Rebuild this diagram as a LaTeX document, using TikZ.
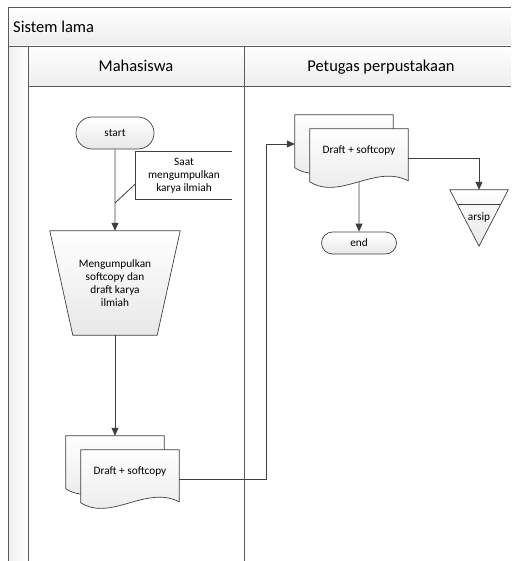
\documentclass[tikz,border=0pt]{standalone}
\usepackage{fontspec}
\setmainfont{Carlito}
\usepackage{tikz}
\usetikzlibrary{shapes}
\usetikzlibrary{arrows}
\usetikzlibrary{arrows.meta}
\usetikzlibrary{calc}

\definecolor{linecol}{HTML}{3F3F3F}
\definecolor{framecol}{HTML}{5A5A5A}

\pgfdeclarelayer{background}
\pgfsetlayers{background,main}

\tikzset{
	flowline/.style={draw=linecol, line width=0.8pt},
	flowarrow/.style={flowline, -{Triangle[width=7pt,length=8pt]}},
	shapefill/.style={draw=linecol, line width=0.7pt, top color=white, bottom color=gray!18},
	smalltext/.style={font=\fontsize{11.3}{13}\selectfont},
	headtext/.style={font=\fontsize{16.5}{20}\selectfont, inner sep=0pt},
	terminal/.style={shapefill, rounded rectangle, inner sep=0pt, smalltext},
	docbox/.style={minimum width=98pt, minimum height=44pt, inner sep=0pt, smalltext},
}

% sheet with wavy bottom, drawn from the anchors of a docbox node
\newcommand{\docsheet}[1]{%
	\path[shapefill] (#1.north west) -- (#1.north east) -- ([yshift=-52pt]#1.north east)
		.. controls ([shift={(-33pt,-35pt)}]#1.north east) and ([shift={(30pt,-72pt)}]#1.north west)
		.. ([yshift=-53pt]#1.north west) -- cycle;}

\begin{document}
\begin{tikzpicture}[x=1pt, y=-1pt]
	\useasboundingbox (0,0) rectangle (511,561);

	% swimlanes
	\node[headtext, anchor=base west] (title) at (13,32.5) {Sistem lama};
	\node[headtext, anchor=base] (laneA) at (136,71.5) {Mahasiswa};
	\node[headtext, anchor=base] (laneB) at (381,71.5) {Petugas perpustakaan};

	% left lane
	\node[terminal, minimum width=78pt, minimum height=32pt] (start) at (115,133) {start};
	\node[smalltext, align=center, minimum width=96pt, minimum height=47pt, inner sep=0pt] (note) at (184,175.5) {Saat\\mengumpulkan\\karya ilmiah};
	\coordinate (tick) at (115,203);
	\node[smalltext, align=center, minimum width=130pt, minimum height=104pt, inner sep=0pt] (collect) at (115,283) {Mengumpulkan\\softcopy dan\\draft karya\\ilmiah};
	\node[docbox] (draftA) at (130,472) {Draft + softcopy};
	\node[docbox] (draftAback) at ([shift={(-15pt,14pt)}]draftA) {};

	% right lane
	\node[docbox] (draftB) at (359,151) {Draft + softcopy};
	\node[docbox] (draftBback) at ([shift={(-15pt,14pt)}]draftB) {};
	\node[terminal, minimum width=75pt, minimum height=22pt] (stop) at (359,243) {end};
	\node[smalltext, minimum width=58pt, minimum height=56pt, inner sep=0pt] (arsip) at (479,218) {arsip};
	\coordinate (turn) at (266,144);

	\begin{pgfonlayer}{background}
		\shade[top color=white, bottom color=gray!14] (8,7) rectangle (511,46);
		\shade[top color=white, bottom color=gray!14] (28,46) rectangle (511,86);
		\shade[left color=gray!12, right color=white] (8,46) rectangle (28,561);
		\draw[framecol, line width=0.8pt] (511,7) -- (8,7) -- (8,561);
		\draw[framecol, line width=0.8pt] (8,46) -- (511,46);
		\draw[framecol, line width=0.8pt] (28,46) -- (28,561);
		\draw[framecol, line width=0.8pt] (28,86) -- (511,86);
		\draw[framecol, line width=0.8pt] (244,46) -- (244,561);

		\path[shapefill] (collect.north west) -- (collect.north east)
			-- ([xshift=-23pt]collect.south east) -- ([xshift=23pt]collect.south west) -- cycle;
		\docsheet{draftAback}
		\docsheet{draftA}
		\docsheet{draftBback}
		\docsheet{draftB}
		\path[shapefill] (arsip.north west) -- (arsip.north east) -- (arsip.south) -- cycle;
		\draw[flowline] ($(arsip.north west)!0.25!(arsip.south)$) -- ($(arsip.north east)!0.25!(arsip.south)$);
	\end{pgfonlayer}

	% note bracket
	\draw[flowline] (note.north east) -- (note.north west) -- (note.south west) -- (note.south east);
	\draw[flowline] ([yshift=-8pt]note.west) -- (tick);

	% connectors
	\draw[flowarrow] (start) -- (collect);
	\draw[flowarrow] (collect) -- (draftAback);
	\draw[flowarrow] ([yshift=-7pt]draftA.east) -| (turn) -- ([yshift=-7pt]draftBback.west);
	\draw[flowarrow] ([yshift=-9pt]draftB.south) -- (stop);
	\draw[flowarrow] ([yshift=-7pt]draftB.east) -| (arsip.north);
\end{tikzpicture}
\end{document}
